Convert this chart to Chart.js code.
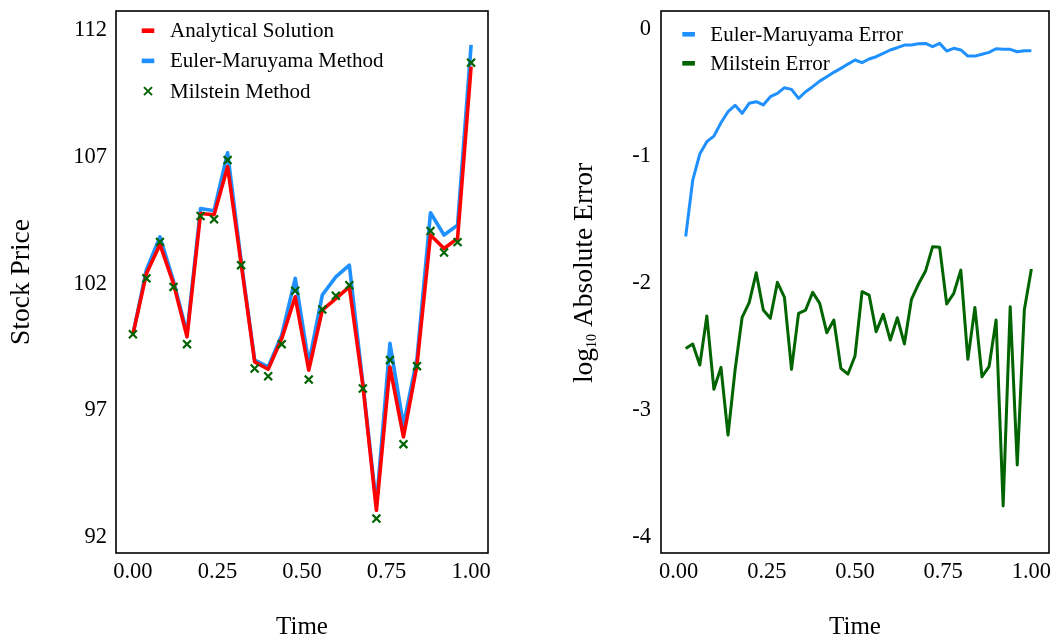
<!DOCTYPE html>
<html>
<head>
<meta charset="utf-8">
<script src="https://cdn.jsdelivr.net/npm/chart.js@4.4.1/dist/chart.umd.min.js"></script>
<style>
html,body{margin:0;padding:0;background:#fff;overflow:hidden}
#wrap{position:relative;width:1057px;height:642px;background:#fff}
canvas{position:absolute;top:0}
#c1{left:0}
#c2{left:530px}
</style>
</head>
<body>
<div id="wrap">
<canvas id="c1" width="530" height="642"></canvas>
<canvas id="c2" width="527" height="642"></canvas>
</div>
<script>
// ---------- data: left panel (stock price paths) ----------
const priceTimes = [0.00,0.04,0.08,0.12,0.16,0.20,0.24,0.28,0.32,0.36,0.40,0.44,0.48,0.52,0.56,0.60,0.64,0.68,0.72,0.76,0.80,0.84,0.88,0.92,0.96,1.00];
const analyticalPrice = [100.00,102.40,103.55,102.00,99.90,104.77,104.72,106.62,102.80,98.91,98.62,99.83,101.48,98.58,100.95,101.41,101.87,97.99,93.05,98.71,95.95,98.78,103.92,103.39,103.79,110.57];
const eulerPrice = [100.00,102.55,103.85,102.10,100.04,104.97,104.88,107.17,102.90,98.98,98.71,99.96,102.21,98.85,101.55,102.27,102.73,98.05,93.25,99.64,96.41,99.04,104.80,103.92,104.31,111.43];
const milsteinPrice = [100.00,102.21,103.65,101.87,99.61,104.67,104.54,106.88,102.73,98.65,98.34,99.61,101.72,98.21,100.98,101.52,101.94,97.86,92.72,98.98,95.66,98.74,104.08,103.23,103.64,110.73];
const priceTicks = [92,97,102,107,112];
const timeTicks = [0,0.25,0.5,0.75,1];

// ---------- data: right panel (log10 absolute error) ----------
const errorTimes = [0.02,0.04,0.06,0.08,0.10,0.12,0.14,0.16,0.18,0.20,0.22,0.24,0.26,0.28,0.30,0.32,0.34,0.36,0.38,0.40,0.42,0.44,0.46,0.48,0.50,0.52,0.54,0.56,0.58,0.60,0.62,0.64,0.66,0.68,0.70,0.72,0.74,0.76,0.78,0.80,0.82,0.84,0.86,0.88,0.90,0.92,0.94,0.96,0.98,1.00];
const eulerLogError = [-1.63,-1.185,-0.98,-0.883,-0.839,-0.734,-0.647,-0.597,-0.66,-0.581,-0.568,-0.594,-0.529,-0.503,-0.458,-0.471,-0.542,-0.49,-0.45,-0.406,-0.372,-0.337,-0.306,-0.272,-0.24,-0.261,-0.232,-0.214,-0.188,-0.161,-0.143,-0.122,-0.122,-0.112,-0.109,-0.135,-0.109,-0.169,-0.148,-0.161,-0.209,-0.209,-0.195,-0.18,-0.151,-0.156,-0.156,-0.175,-0.167,-0.167];
const milsteinLogError = [-2.511,-2.476,-2.642,-2.256,-2.833,-2.660,-3.193,-2.681,-2.266,-2.151,-1.915,-2.209,-2.274,-1.991,-2.109,-2.676,-2.235,-2.209,-2.070,-2.156,-2.387,-2.287,-2.668,-2.713,-2.571,-2.064,-2.091,-2.379,-2.243,-2.445,-2.269,-2.476,-2.125,-2.004,-1.902,-1.710,-1.715,-2.161,-2.077,-1.894,-2.597,-2.188,-2.734,-2.655,-2.287,-3.752,-2.182,-3.429,-2.209,-1.886];
const errorTicks = [-4,-3,-2,-1,0];
// axis title: "log" + subscript "10" + rest
const errorTitleParts = ['log', '10', ' Absolute Error'];

// ---------- styling ----------
const SERIF = "'Liberation Serif', 'Times New Roman', 'DejaVu Serif', serif";
const RED = '#ff0000', BLUE = '#1e90ff', GREEN = '#006400';

const toPoints = (xs, ys) => xs.map((x, i) => ({x: x, y: ys[i]}));

const frameLegend = {
  id: 'frameLegend',
  afterDraw(chart, args, opts) {
    const ctx = chart.ctx, a = chart.chartArea;
    ctx.save();
    ctx.strokeStyle = '#000';
    ctx.lineWidth = 1.6;
    ctx.strokeRect(a.left, a.top, a.right - a.left, a.bottom - a.top);
    ctx.font = '21px ' + SERIF;
    ctx.textBaseline = 'middle';
    ctx.textAlign = 'left';
    opts.items.forEach((it, i) => {
      const ds = chart.data.datasets[it.ds];
      const y = a.top + opts.top + i * opts.spacing;
      const cx = a.left + opts.markX;
      if (it.kind === 'line') {
        ctx.fillStyle = ds.borderColor;
        ctx.fillRect(cx - 6.3, y - 2.3, 12.6, 4.6);
      } else {
        ctx.strokeStyle = ds.pointBorderColor;
        ctx.lineWidth = 2;
        ctx.beginPath();
        ctx.moveTo(cx - 4, y - 4); ctx.lineTo(cx + 4, y + 4);
        ctx.moveTo(cx - 4, y + 4); ctx.lineTo(cx + 4, y - 4);
        ctx.stroke();
      }
      ctx.fillStyle = '#000';
      ctx.fillText(ds.label, a.left + opts.textX, y + 1);
    });
    // optional rotated title with subscript
    if (opts.subTitle) {
      const st = opts.subTitle;
      const big = st.size + 'px ' + SERIF, small = st.subSize + 'px ' + SERIF;
      const fonts = [big, small, big];
      let total = 0;
      const widths = st.parts.map((p, i) => { ctx.font = fonts[i]; const w = ctx.measureText(p).width; total += w; return w; });
      const cy = (a.top + a.bottom) / 2 + st.dy;
      ctx.translate(st.x, cy + total / 2);
      ctx.rotate(-Math.PI / 2);
      ctx.fillStyle = '#000';
      ctx.textBaseline = 'alphabetic';
      let pos = 0;
      st.parts.forEach((p, i) => {
        ctx.font = fonts[i];
        ctx.fillText(p, pos, i === 1 ? st.subShift : 0);
        pos += widths[i];
      });
    }
    ctx.restore();
  }
};

function xScale() {
  return {
    type: 'linear', min: -0.05, max: 1.05,
    grid: {display: false, drawTicks: false}, border: {display: false},
    afterBuildTicks: s => { s.ticks = timeTicks.map(v => ({value: v})); },
    afterFit: s => { s.height = 89; s.paddingLeft = 0; s.paddingRight = 0; },
    ticks: {color: '#000', padding: 5.5, maxRotation: 0, autoSkip: false,
            font: {family: SERIF, size: 22.5}, callback: v => Number(v).toFixed(2)},
    title: {display: true, text: 'Time', color: '#000', padding: {top: 0, bottom: 0},
            font: {family: SERIF, size: 25}}
  };
}

// ---------- left chart ----------
new Chart(document.getElementById('c1'), {
  type: 'line',
  data: {
    datasets: [
      {label: 'Analytical Solution', data: toPoints(priceTimes, analyticalPrice), borderColor: RED,
       backgroundColor: RED, borderWidth: 3.6, pointRadius: 0, order: 1, borderJoinStyle: 'round'},
      {label: 'Euler-Maruyama Method', data: toPoints(priceTimes, eulerPrice), borderColor: BLUE,
       backgroundColor: BLUE, borderWidth: 3.6, pointRadius: 0, order: 2, borderJoinStyle: 'round'},
      {label: 'Milstein Method', data: toPoints(priceTimes, milsteinPrice), showLine: false,
       borderColor: GREEN, pointStyle: 'crossRot', pointRadius: 5.6, pointBorderColor: GREEN,
       pointBackgroundColor: 'rgba(0,0,0,0)', pointBorderWidth: 2.2, order: 0}
    ]
  },
  options: {
    responsive: false, animation: false, devicePixelRatio: 1,
    layout: {padding: {top: 11, right: 42, left: 0, bottom: 0}},
    plugins: {
      legend: {display: false}, tooltip: {enabled: false},
      frameLegend: {top: 19.7, spacing: 30.2, markX: 32, textX: 54,
        items: [{ds: 0, kind: 'line'}, {ds: 1, kind: 'line'}, {ds: 2, kind: 'cross'}]}
    },
    scales: {
      x: xScale(),
      y: {
        type: 'linear', min: 91.36, max: 112.77,
        grid: {display: false, drawTicks: false}, border: {display: false},
        afterBuildTicks: s => { s.ticks = priceTicks.map(v => ({value: v})); },
        afterFit: s => { s.width = 116; s.paddingTop = 0; s.paddingBottom = 0; },
        ticks: {color: '#000', padding: 9, font: {family: SERIF, size: 22.5}, callback: v => String(v)},
        title: {display: true, text: 'Stock Price', color: '#000', padding: {top: 5, bottom: 0},
                font: {family: SERIF, size: 27.5}}
      }
    }
  },
  plugins: [frameLegend]
});

// ---------- right chart ----------
new Chart(document.getElementById('c2'), {
  type: 'line',
  data: {
    datasets: [
      {label: 'Euler-Maruyama Error', data: toPoints(errorTimes, eulerLogError), borderColor: BLUE,
       backgroundColor: BLUE, borderWidth: 3, pointRadius: 0, borderJoinStyle: 'round'},
      {label: 'Milstein Error', data: toPoints(errorTimes, milsteinLogError), borderColor: GREEN,
       backgroundColor: GREEN, borderWidth: 3, pointRadius: 0, borderJoinStyle: 'round'}
    ]
  },
  options: {
    responsive: false, animation: false, devicePixelRatio: 1,
    layout: {padding: {top: 11, right: 8, left: 0, bottom: 0}},
    plugins: {
      legend: {display: false}, tooltip: {enabled: false},
      frameLegend: {top: 23.3, spacing: 29, markX: 27.6, textX: 49.3,
        items: [{ds: 0, kind: 'line'}, {ds: 1, kind: 'line'}],
        subTitle: {parts: errorTitleParts, size: 27.5, subSize: 14, subShift: 4, x: 62, dy: -9}}
    },
    scales: {
      x: xScale(),
      y: {
        type: 'linear', min: -4.122, max: 0.146,
        grid: {display: false, drawTicks: false}, border: {display: false},
        afterBuildTicks: s => { s.ticks = errorTicks.map(v => ({value: v})); },
        afterFit: s => { s.width = 131; s.paddingTop = 0; s.paddingBottom = 0; },
        ticks: {color: '#000', padding: 10, font: {family: SERIF, size: 22.5}, callback: v => String(v)},
        title: {display: false, text: 'log10 Absolute Error'}
      }
    }
  },
  plugins: [frameLegend]
});
</script>
</body>
</html>
